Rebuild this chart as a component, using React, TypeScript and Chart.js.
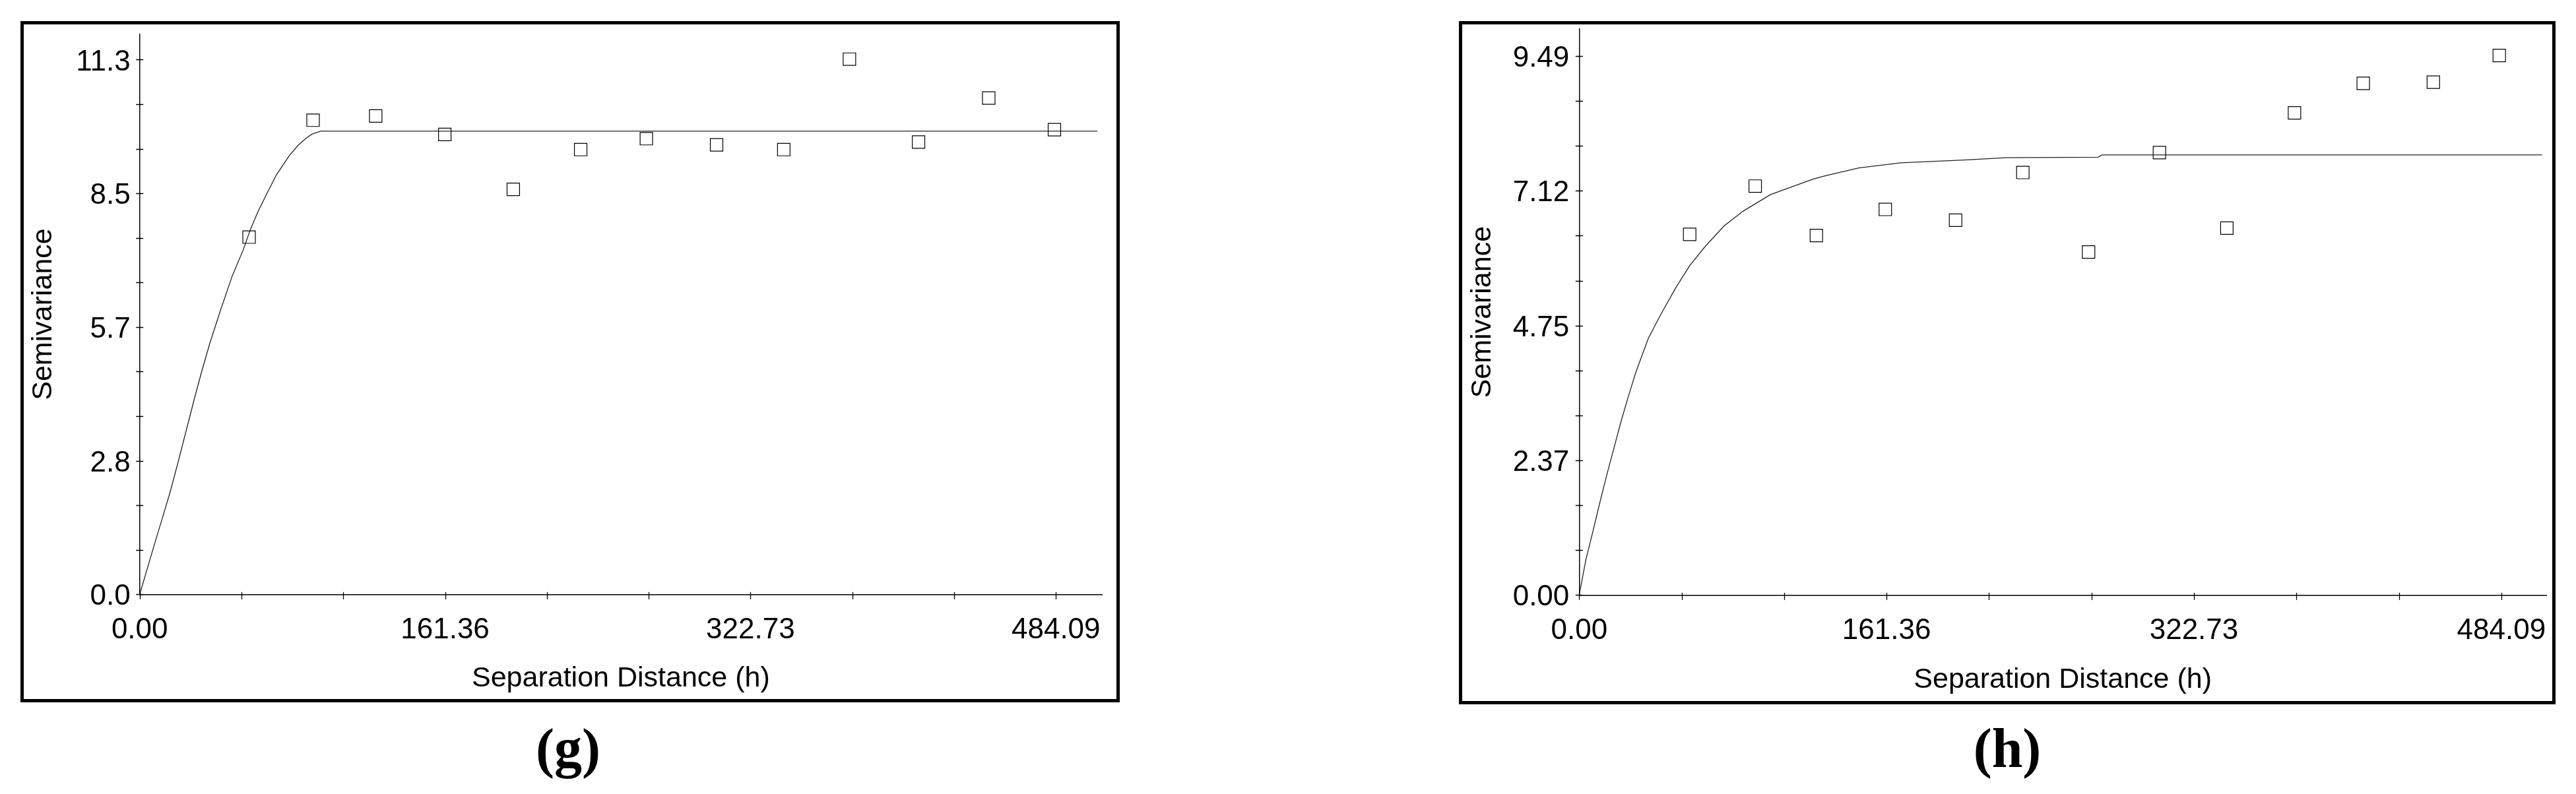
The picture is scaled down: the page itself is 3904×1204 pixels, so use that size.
import React, { useEffect, useRef } from 'react';
import { Chart, registerables } from 'chart.js';

Chart.register(...registerables);

// ---------- shared axis data ----------
const X_MAJOR = [0, 161.363, 322.727, 484.09];
const X_LABELS = ['0.00', '161.36', '322.73', '484.09'];
const MINOR_DIVISIONS = 3;
const X_TITLE = 'Separation Distance (h)';
const Y_TITLE = 'Semivariance';

// ---------- panel (g) ----------
const G_POINT_X = [57.8, 91.6, 124.7, 161.2, 197.4, 233.0, 267.7, 304.8, 340.3, 375.0, 411.5, 448.6, 483.3];
const G_POINT_Y = [7.55, 10.02, 10.11, 9.72, 8.56, 9.4, 9.63, 9.5, 9.4, 11.31, 9.56, 10.49, 9.82];
const G_MODEL_X = [0, 7, 11.5, 16, 20, 24.5, 29, 32, 37, 42.5, 49, 54.6, 58.4, 62.3, 66.8, 72.3, 79, 83.5, 87.9, 91.2, 95.7, 506];
const G_MODEL_Y = [0, 0.95, 1.55, 2.15, 2.75, 3.45, 4.15, 4.6, 5.3, 5.98, 6.74, 7.27, 7.7, 8.07, 8.44, 8.87, 9.27, 9.48, 9.64, 9.73, 9.79, 9.79];
const G_Y_MAJOR = [0, 2.825, 5.65, 8.475, 11.3];
const G_Y_LABELS = ['0.0', '2.8', '5.7', '8.5', '11.3'];
const G_Y_MAX = 11.84;
const G_X_MAX = 508.4;
const G_CAPTION = '(g)';

// ---------- panel (h) ----------
const H_POINT_X = [58.0, 92.4, 124.5, 160.7, 197.6, 232.9, 267.4, 304.6, 340.0, 375.5, 411.6, 448.4, 483.0];
const H_POINT_Y = [6.35, 7.2, 6.33, 6.79, 6.6, 7.44, 6.04, 7.79, 6.46, 8.49, 9.01, 9.03, 9.5];
const H_MODEL_X = [0, 3.5, 6.9, 9.2, 12.1, 15.0, 18.5, 22.0, 25.4, 29.7, 36.3, 43.0, 50.7, 58.0, 66.2, 76.1, 86.1, 100.4, 122.5, 129.1, 146.8, 168.9, 202.1, 224.2, 272.4, 274.5, 505.5];
const H_MODEL_Y = [0, 0.62, 1.08, 1.4, 1.8, 2.18, 2.62, 3.06, 3.45, 3.92, 4.52, 4.95, 5.41, 5.8, 6.14, 6.5, 6.76, 7.05, 7.32, 7.38, 7.52, 7.61, 7.66, 7.7, 7.71, 7.75, 7.75];
const H_Y_MAJOR = [0, 2.3725, 4.745, 7.1175, 9.49];
const H_Y_LABELS = ['0.00', '2.37', '4.75', '7.12', '9.49'];
const H_Y_MAX = 9.966;
const H_X_MAX = 507.7;
const H_CAPTION = '(h)';

const FONT = '"Liberation Sans", Arial, sans-serif';

function subdivide(majors: number[], n: number): number[] {
  const out: number[] = [];
  for (let i = 0; i < majors.length - 1; i++) {
    const a = majors[i];
    const b = majors[i + 1];
    for (let k = 0; k < n; k++) out.push(a + ((b - a) * k) / n);
  }
  out.push(majors[majors.length - 1]);
  return out;
}

function labelFor(labels: string[], n: number) {
  return (_v: any, index: number) => (index % n === 0 ? labels[index / n] ?? '' : '');
}

const crossTicks = {
  id: 'crossTicks',
  afterDraw(chart: any) {
    const { ctx } = chart;
    const xs = chart.scales.x;
    const ys = chart.scales.y;
    ctx.save();
    ctx.strokeStyle = '#000';
    ctx.lineWidth = 1.3;
    ctx.beginPath();
    xs.ticks.forEach((t: any) => {
      const px = Math.round(xs.getPixelForValue(t.value)) + 0.5;
      ctx.moveTo(px, xs.top - 3.5);
      ctx.lineTo(px, xs.top + 7.5);
    });
    ys.ticks.forEach((t: any) => {
      const py = Math.round(ys.getPixelForValue(t.value)) + 0.5;
      ctx.moveTo(ys.right - 5.5, py);
      ctx.lineTo(ys.right + 5.5, py);
    });
    ctx.stroke();
    ctx.restore();
  },
};

type PanelProps = {
  left: number;
  width: number;
  height: number;
  pad: { left: number; top: number; right: number; bottom: number };
  yWidth: number;
  xHeight: number;
  xTickPad: number;
  yTickPad: number;
  titlePadBottom: number;
  xMax: number;
  yMax: number;
  yMajor: number[];
  yLabels: string[];
  pointsX: number[];
  pointsY: number[];
  modelX: number[];
  modelY: number[];
};

function Panel(p: PanelProps) {
  const ref = useRef<HTMLCanvasElement | null>(null);
  useEffect(() => {
    if (!ref.current) return;
    const xTicks = subdivide(X_MAJOR, MINOR_DIVISIONS);
    const yTicks = subdivide(p.yMajor, MINOR_DIVISIONS);
    const chart = new Chart(ref.current, {
      type: 'scatter',
      data: {
        datasets: [
          {
            label: 'points',
            data: p.pointsX.map((x, i) => ({ x, y: p.pointsY[i] })),
            pointStyle: 'rect',
            pointRadius: 13.4,
            pointBorderWidth: 1.2,
            pointBorderColor: '#000',
            pointBackgroundColor: 'rgba(0,0,0,0)',
            showLine: false,
          },
          {
            label: 'model',
            data: p.modelX.map((x, i) => ({ x, y: p.modelY[i] })),
            showLine: true,
            borderColor: '#222',
            borderWidth: 1.3,
            pointRadius: 0,
            tension: 0,
            fill: false,
          },
        ],
      },
      options: {
        animation: false,
        responsive: false,
        devicePixelRatio: 1,
        layout: { padding: p.pad },
        plugins: { legend: { display: false }, tooltip: { enabled: false } },
        scales: {
          x: {
            type: 'linear',
            min: 0,
            max: p.xMax,
            bounds: 'data',
            grid: { display: false, drawTicks: false },
            border: { display: true, color: '#000', width: 1.5 },
            afterBuildTicks: (s: any) => {
              s.ticks = xTicks.map((v) => ({ value: v }));
            },
            afterFit: (s: any) => {
              s.height = p.xHeight;
            },
            ticks: {
              autoSkip: false,
              maxRotation: 0,
              padding: p.xTickPad,
              color: '#000',
              font: { family: FONT, size: 44 },
              callback: labelFor(X_LABELS, MINOR_DIVISIONS),
            },
            title: {
              display: true,
              text: X_TITLE,
              color: '#000',
              font: { family: FONT, size: 43 },
              padding: { top: 0, bottom: p.titlePadBottom },
            },
          },
          y: {
            type: 'linear',
            min: 0,
            max: p.yMax,
            bounds: 'data',
            grid: { display: false, drawTicks: false },
            border: { display: true, color: '#000', width: 1.5 },
            afterBuildTicks: (s: any) => {
              s.ticks = yTicks.map((v) => ({ value: v }));
            },
            afterFit: (s: any) => {
              s.width = p.yWidth;
            },
            ticks: {
              autoSkip: false,
              padding: p.yTickPad,
              labelOffset: 4,
              color: '#000',
              font: { family: FONT, size: 44 },
              callback: labelFor(p.yLabels, MINOR_DIVISIONS),
            },
            title: {
              display: true,
              text: Y_TITLE,
              color: '#000',
              font: { family: FONT, size: 43 },
              padding: { top: 0, bottom: 0 },
            },
          },
        },
      },
      plugins: [crossTicks],
    } as any);
    return () => chart.destroy();
  }, []);
  return (
    <canvas
      ref={ref}
      width={p.width}
      height={p.height}
      style={{ position: 'absolute', left: p.left, top: 0, width: p.width, height: p.height }}
    />
  );
}

function Frame({ left, top, right, bottom }: { left: number; top: number; right: number; bottom: number }) {
  return (
    <div
      style={{
        position: 'absolute',
        left,
        top,
        width: right - left,
        height: bottom - top,
        border: '5px solid #000',
        boxSizing: 'border-box',
        pointerEvents: 'none',
      }}
    />
  );
}

function Caption({ center, text }: { center: number; text: string }) {
  return (
    <div
      style={{
        position: 'absolute',
        left: center - 200,
        width: 400,
        top: 1093,
        textAlign: 'center',
        fontFamily: '"Liberation Serif", "Times New Roman", serif',
        fontWeight: 'bold',
        fontSize: 84,
        lineHeight: '84px',
        color: '#000',
      }}
    >
      {text}
    </div>
  );
}

export default function App() {
  return (
    <div
      style={{
        position: 'absolute',
        left: 0,
        top: 0,
        width: 3904,
        height: 1204,
        background: '#fff',
        overflow: 'hidden',
      }}
    >
      <Panel
        left={0}
        width={1730}
        height={1059}
        pad={{ left: 40.2, top: 51.7, right: 60, bottom: 0 }}
        yWidth={171.5}
        xHeight={157.7}
        xTickPad={27.7}
        yTickPad={14}
        titlePadBottom={3.7}
        xMax={G_X_MAX}
        yMax={G_Y_MAX}
        yMajor={G_Y_MAJOR}
        yLabels={G_Y_LABELS}
        pointsX={G_POINT_X}
        pointsY={G_POINT_Y}
        modelX={G_MODEL_X}
        modelY={G_MODEL_Y}
      />
      <Frame left={31} top={32} right={1697} bottom={1065} />
      <Caption center={861} text={G_CAPTION} />

      <Panel
        left={2180}
        width={1720}
        height={1059}
        pad={{ left: 41.2, top: 44, right: 41, bottom: 0 }}
        yWidth={172.1}
        xHeight={156.7}
        xTickPad={28.3}
        yTickPad={15}
        titlePadBottom={2.2}
        xMax={H_X_MAX}
        yMax={H_Y_MAX}
        yMajor={H_Y_MAJOR}
        yLabels={H_Y_LABELS}
        pointsX={H_POINT_X}
        pointsY={H_POINT_Y}
        modelX={H_MODEL_X}
        modelY={H_MODEL_Y}
      />
      <Frame left={2211} top={32} right={3873} bottom={1068} />
      <Caption center={3042} text={H_CAPTION} />
    </div>
  );
}
